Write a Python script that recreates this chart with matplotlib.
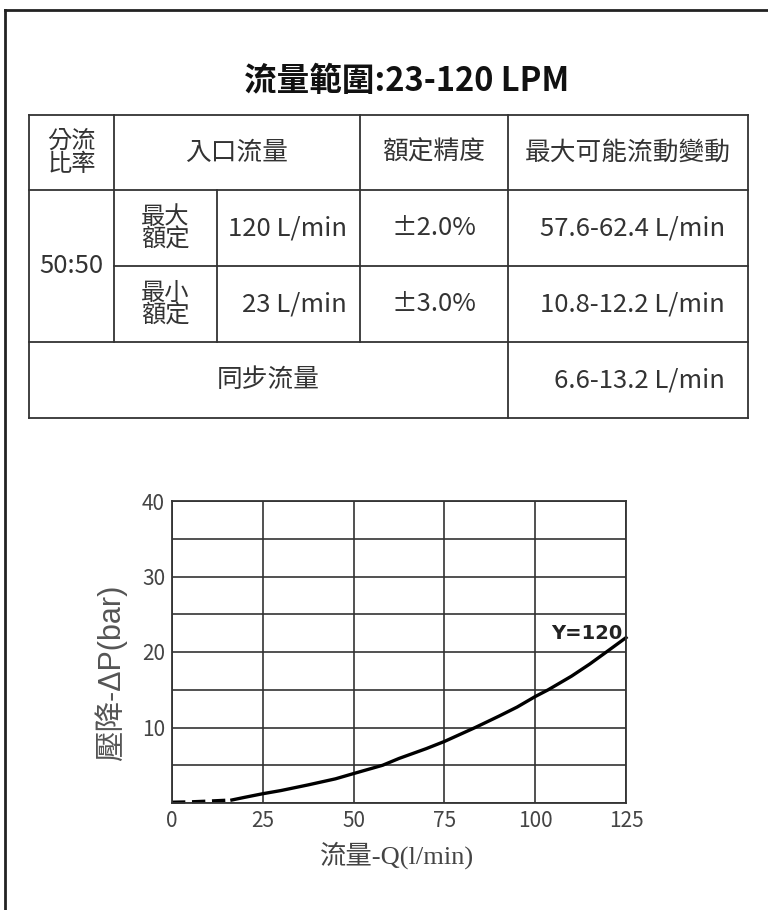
import matplotlib
matplotlib.use('Agg')
import matplotlib.pyplot as plt

plt.rcParams['font.family'] = ['Noto Sans CJK TC', 'DejaVu Sans']

TITLE = '流量範圍:23-120 LPM'

# table contents
header = ['分流\n比率', '入口流量', '額定精度', '最大可能流動變動']
ratio = '50:50'
rated_names = ['最大\n額定', '最小\n額定']
inlet_flow = ['120 L/min', '23 L/min']
accuracy = ['±2.0%', '±3.0%']
max_variation = ['57.6-62.4 L/min', '10.8-12.2 L/min']
sync_name = '同步流量'
sync_value = '6.6-13.2 L/min'

# pressure drop curve (Y=120)
flow_dash = [0, 5, 10, 16.5]
dp_dash = [0.1, 0.15, 0.25, 0.4]
flow_solid = [16.5, 20, 25, 30, 37.5, 45, 50, 58, 62.5, 70, 75, 83.5, 90, 95, 100, 103.6, 110, 115, 119.6, 125]
dp_solid = [0.4, 0.75, 1.23, 1.65, 2.4, 3.2, 3.9, 5.0, 5.9, 7.2, 8.15, 10.0, 11.5, 12.7, 14.1, 15.0, 16.8, 18.4, 20.0, 21.9]
curve_label = 'Y=120'

fig = plt.figure(figsize=(7.68, 9.10), dpi=100)

# full-figure axes in pixel coordinates for the frame and the table
bg = fig.add_axes([0, 0, 1, 1])
bg.set_xlim(0, 768)
bg.set_ylim(910, 0)
bg.axis('off')

lc = '#333333'
tc = '#333333'

# page frame (left and top edges only)
bg.plot([5, 5], [10, 910], color='#222222', lw=2)
bg.plot([5, 768], [10, 10], color='#222222', lw=2)

bg.text(407, 81, TITLE, ha='center', va='center', fontsize=23.5, fontweight='bold', color='#111111')

# table grid
x0, x1, x2, x3, x4, x5 = 29, 114, 217, 360, 508, 748
y0, y1, y2, y3, y4 = 115, 190, 266, 342, 418
segs = [
    ((x0, x5), (y0, y0)), ((x0, x5), (y1, y1)), ((x1, x5), (y2, y2)),
    ((x0, x5), (y3, y3)), ((x0, x5), (y4, y4)),
    ((x0, x0), (y0, y4)), ((x5, x5), (y0, y4)),
    ((x1, x1), (y0, y3)), ((x2, x2), (y1, y3)),
    ((x3, x3), (y0, y3)), ((x4, x4), (y0, y4)),
]
for xs, ys in segs:
    bg.plot(xs, ys, color=lc, lw=1.3, solid_capstyle='projecting')

fs = 18.5
bg.text((x0 + x1) / 2, (y0 + y1) / 2, header[0], ha='center', va='center',
        fontsize=fs - 1, color=tc, linespacing=0.85)
bg.text((x1 + x3) / 2, (y0 + y1) / 2, header[1], ha='center', va='center', fontsize=fs, color=tc)
bg.text((x3 + x4) / 2, (y0 + y1) / 2, header[2], ha='center', va='center', fontsize=fs, color=tc)
bg.text((x4 + x5) / 2, (y0 + y1) / 2, header[3], ha='center', va='center', fontsize=fs, color=tc)

bg.text((x0 + x1) / 2, y2, ratio, ha='center', va='center', fontsize=fs, color=tc)
for i, (ya, yb) in enumerate([(y1, y2), (y2, y3)]):
    ym = (ya + yb) / 2
    bg.text((x1 + x2) / 2, ym, rated_names[i], ha='center', va='center',
            fontsize=fs - 1, color=tc, linespacing=0.85)
    bg.text(x3 - 13, ym, inlet_flow[i], ha='right', va='center', fontsize=fs, color=tc)
    bg.text((x3 + x4) / 2, ym, accuracy[i], ha='center', va='center', fontsize=fs, color=tc)
    bg.text(x5 - 23, ym, max_variation[i], ha='right', va='center', fontsize=fs, color=tc)

bg.text((x0 + x4) / 2, (y3 + y4) / 2, sync_name, ha='center', va='center', fontsize=fs, color=tc)
bg.text(x5 - 23, (y3 + y4) / 2, sync_value, ha='right', va='center', fontsize=fs, color=tc)

# pressure drop chart
ax = fig.add_axes([172 / 768, 1 - 803 / 910, (626 - 172) / 768, (803 - 501) / 910])
ax.set_xlim(0, 125)
ax.set_ylim(0, 40)
ax.set_xticks([0, 25, 50, 75, 100, 125])
ax.set_yticks([10, 20, 30, 40])
ax.set_yticks(range(0, 41, 5), minor=True)
ax.grid(True, which='both', color=lc, lw=1.2)
ax.tick_params(which='both', length=0, labelsize=15, labelcolor='#444444', pad=5)
for s in ax.spines.values():
    s.set_color(lc)
    s.set_linewidth(1.3)

ax.plot(flow_dash, dp_dash, color='black', lw=2.4, ls=(0, (4, 2)), clip_on=False)
ax.plot(flow_solid, dp_solid, color='black', lw=2.4, clip_on=False)
ax.text(123.9, 22.4, curve_label, ha='right', va='center', fontsize=14,
        fontweight='bold', color='#222222', family='DejaVu Sans')

ax.set_ylabel('壓降-ΔP(bar)', fontsize=22, color='#555555',
              family=['Liberation Sans', 'Noto Sans CJK TC'])
ax.yaxis.set_label_coords(-(172 - 127) / 454, (803 - 673) / 302)
ax.set_xlabel('流量-Q(l/min)', fontsize=19, color='#444444',
              family=['Liberation Serif', 'Noto Sans CJK TC'])
ax.xaxis.set_label_coords(0.5 - (399 - 397) / 454, -(841 - 803) / 302)

fig.savefig('out.png', dpi=100)
